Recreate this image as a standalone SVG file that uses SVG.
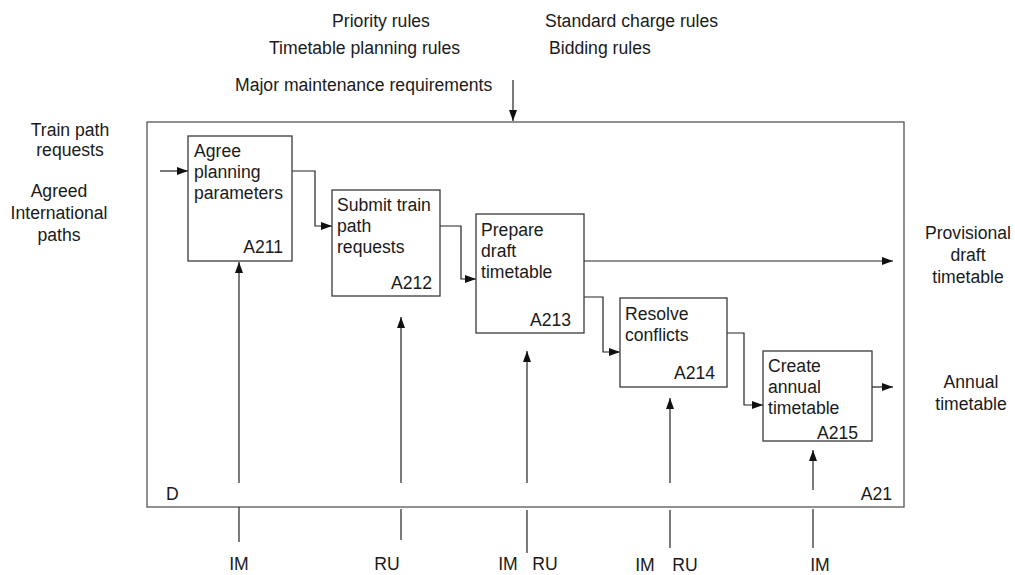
<svg xmlns="http://www.w3.org/2000/svg" width="1015" height="575" viewBox="0 0 1015 575">
<defs>
<marker id="ah" markerWidth="11" markerHeight="8" refX="11" refY="4" orient="auto" markerUnits="userSpaceOnUse">
<path d="M0,0 L11,4 L0,8 Z" fill="#111"/>
</marker>
<style>
text{font-family:"Liberation Sans",Arial,sans-serif;font-size:17.6px;fill:#1a1a1a}
.box{fill:#fff;stroke:#3a3a3a;stroke-width:1.3}
.frame{fill:none;stroke:#555;stroke-width:1.3}
.c{fill:none;stroke:#222;stroke-width:1.2}
.a{fill:none;stroke:#222;stroke-width:1.2;marker-end:url(#ah)}
.m{text-anchor:middle}
.e{text-anchor:end}
</style>
</defs>
<rect class="frame" x="147" y="122" width="757" height="385"/>
<text x="166" y="500">D</text>
<text class="e" x="892" y="500">A21</text>

<g id="labels">
<text class="m" x="381" y="27">Priority rules</text>
<text x="545" y="27">Standard charge rules</text>
<text x="269" y="54">Timetable planning rules</text>
<text x="549" y="54">Bidding rules</text>
<text x="235" y="91">Major maintenance requirements</text>
<text class="m" x="70" y="136">Train path</text>
<text class="m" x="70" y="156">requests</text>
<text class="m" x="59" y="197">Agreed</text>
<text class="m" x="59" y="219">International</text>
<text class="m" x="59" y="241">paths</text>
<text class="m" x="968" y="239">Provisional</text>
<text class="m" x="968" y="261">draft</text>
<text class="m" x="968" y="283">timetable</text>
<text class="m" x="971" y="388">Annual</text>
<text class="m" x="971" y="410">timetable</text>
<text class="m" x="239" y="570">IM</text>
<text class="m" x="387" y="570">RU</text>
<text class="m" x="508" y="570">IM</text>
<text class="m" x="545" y="570">RU</text>
<text class="m" x="645" y="570.5">IM</text>
<text class="m" x="685" y="570.5">RU</text>
<text class="m" x="820" y="570.5">IM</text>
</g>

<g id="connectors">
<line class="a" x1="513" y1="80" x2="513" y2="121"/>
<line class="a" x1="160" y1="171" x2="188" y2="171"/>
<polyline class="a" points="292,171 315,171 315,226 332,226"/>
<polyline class="a" points="440,226 461,226 461,279 476,279"/>
<line class="a" x1="584" y1="261" x2="893" y2="261"/>
<polyline class="a" points="584,297 603,297 603,352 620,352"/>
<polyline class="a" points="727,333 744,333 744,405 763,405"/>
<line class="a" x1="872" y1="387" x2="893" y2="387"/>
<line class="a" x1="239" y1="483" x2="239" y2="262"/>
<line class="c" x1="239" y1="507" x2="239" y2="542"/>
<line class="a" x1="401" y1="483" x2="401" y2="317"/>
<line class="c" x1="401" y1="509" x2="401" y2="540"/>
<line class="a" x1="527" y1="483" x2="527" y2="351"/>
<line class="c" x1="527" y1="510" x2="527" y2="553"/>
<line class="a" x1="670" y1="483" x2="670" y2="398"/>
<line class="c" x1="670" y1="510" x2="670" y2="548"/>
<line class="a" x1="813" y1="490" x2="813" y2="450"/>
<line class="c" x1="813" y1="509" x2="813" y2="548"/>
</g>

<g id="A211">
<rect class="box" x="188" y="136" width="104" height="125"/>
<text x="194" y="157">Agree</text>
<text x="194" y="178">planning</text>
<text x="194" y="199">parameters</text>
<text class="e" x="283" y="253">A211</text>
</g>
<g id="A212">
<rect class="box" x="332" y="190" width="108" height="106"/>
<text x="337" y="211">Submit train</text>
<text x="337" y="232">path</text>
<text x="337" y="253">requests</text>
<text class="e" x="432" y="289">A212</text>
</g>
<g id="A213">
<rect class="box" x="476" y="214" width="108" height="119"/>
<text x="481" y="236">Prepare</text>
<text x="481" y="257">draft</text>
<text x="481" y="278">timetable</text>
<text class="e" x="571" y="326">A213</text>
</g>
<g id="A214">
<rect class="box" x="620" y="298" width="107" height="89"/>
<text x="625" y="320">Resolve</text>
<text x="625" y="341">conflicts</text>
<text class="e" x="715" y="379">A214</text>
</g>
<g id="A215">
<rect class="box" x="763" y="351" width="109" height="90"/>
<text x="768" y="372">Create</text>
<text x="768" y="393">annual</text>
<text x="768" y="414">timetable</text>
<text class="e" x="858" y="439">A215</text>
</g>
</svg>
